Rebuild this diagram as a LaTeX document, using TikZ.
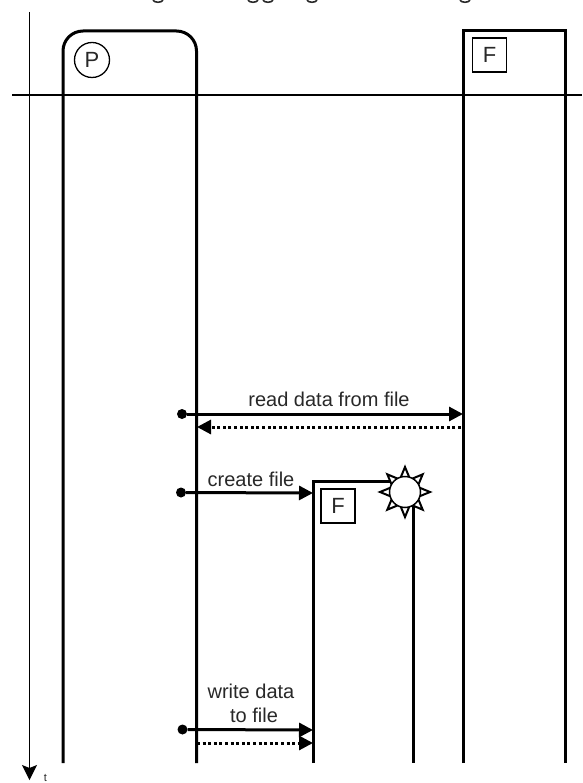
\documentclass[tikz,border=0pt]{standalone}
\usepackage{fontspec}
\setmainfont{Liberation Sans}
\usetikzlibrary{arrows.meta, calc, positioning}
\definecolor{grisTexto}{RGB}{40,40,40}

\begin{document}
\begin{tikzpicture}[x=1pt, y=-1pt,
    lifeline/.style={line width=3pt},
    timeline/.style={line width=1.2pt},
    msg/.style={line width=3pt, -{Triangle[length=14pt, width=14pt]}},
    reply/.style={line width=3pt, dash pattern=on 3pt off 2.6pt, -{Triangle[length=14pt, width=14pt]}},
    startdot/.style={circle, fill=black, inner sep=0pt, minimum size=10pt},
    label/.style={font=\fontsize{20}{24}\selectfont, text=grisTexto, inner sep=0pt, align=center},
    tagbox/.style={draw, line width=1.3pt, minimum size=34pt, inner sep=0pt, font=\fontsize{22}{24}\selectfont, text=grisTexto}]
    \useasboundingbox (0,0) rectangle (582,783);

    % Restos del titulo cortado por el borde superior
    \foreach \gx in {158,253,268,312,465}
        \draw[line width=1.6pt, grisTexto] (\gx-5,0) .. controls (\gx-4,3) and (\gx+4,3) .. (\gx+5,0);

    % Eje de tiempo y linea horizontal
    \coordinate (axisTop) at (29.5,12);
    \coordinate (axisEnd) at (29.5,780);
    \coordinate (lineL) at (12,95);
    \coordinate (lineR) at (582,95);
    \draw[timeline, -{Stealth[length=15pt, width=15pt, inset=3pt]}] (axisTop) -- (axisEnd);
    \draw[timeline] (lineL) -- (lineR);
    \node[font=\fontsize{11}{12}\selectfont, inner sep=0pt, text=grisTexto] (tLabel) at (45.5,778) {t};

    % Proceso P
    \draw[lifeline, rounded corners=20pt] (63,763) -- (63,31) -- (196.5,31) -- (196.5,763);
    \node[draw, circle, line width=1.3pt, minimum size=35pt, inner sep=0pt, font=\fontsize{22}{24}\selectfont, text=grisTexto] (procP) at (92,60) {P};

    % Archivo F existente
    \draw[lifeline] (463.5,763) -- (463.5,31) -- (565,31) -- (565,763);
    \node[tagbox] (fileA) at (489.5,55) {F};

    % Archivo F nuevo
    \coordinate (burst) at (405,492);
    \coordinate (newTopR) at (392,481);
    \coordinate (newEndR) at (413,763);
    \draw[lifeline] (313,763) -- (313,481) -- (newTopR);
    \draw[lifeline] (413,505) -- (newEndR);
    \foreach \ang in {0,45,...,315}
        \filldraw[fill=white, draw=black, line width=2pt, line join=miter]
        ($(burst)+(\ang-17:15)$) -- ($(burst)+(\ang:25)$) -- ($(burst)+(\ang+17:15)$) -- cycle;
    \node[circle, draw, fill=white, line width=1.5pt, minimum size=31pt, inner sep=0pt] (sun) at (burst) {};
    \node[tagbox] (fileB) at (338,506) {F};

    % Puntos de salida
    \node[startdot] (readDot) at (182,414) {};
    \node[startdot] (createDot) at (181,492.5) {};
    \node[startdot] (writeDot) at (182.5,729.5) {};
    \coordinate (readEnd) at (463,414);
    \coordinate (backStart) at (461,427);
    \coordinate (backEnd) at (197,427);
    \coordinate (createEnd) at (313,493);
    \coordinate (writeEnd) at (313,730);
    \coordinate (doneStart) at (197,743);
    \coordinate (doneEnd) at (313,743);

    % Mensajes
    \draw[msg] (readDot) -- (readEnd);
    \draw[reply] (backStart) -- (backEnd);
    \draw[msg] (createDot) -- (createEnd);
    \draw[msg] (writeDot) -- (writeEnd);
    \draw[reply] (doneStart) -- (doneEnd);

    \node[label] (readLabel) at (329,399) {read data from file};
    \node[label] (createLabel) at (251,479) {create file};
    \node[label] (writeLabel) at (251,703) {write data\\\hspace*{6pt}to file};
\end{tikzpicture}
\end{document}
